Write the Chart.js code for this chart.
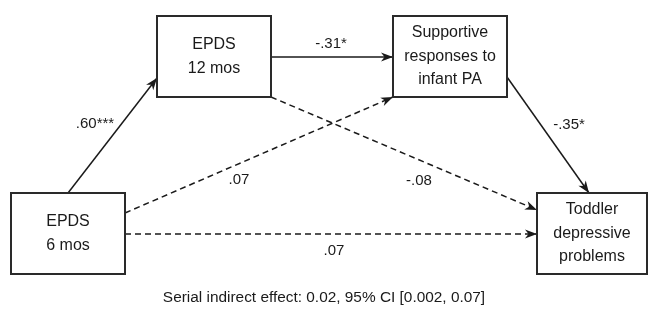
<!DOCTYPE html>
<html><head><meta charset="utf-8">
<script src="https://cdn.jsdelivr.net/npm/chart.js@4/dist/chart.umd.min.js"></script>
<style>html,body{margin:0;padding:0;background:#fff}canvas{display:block}</style>
</head><body>
<canvas id="c" width="648" height="310"></canvas>
<script>
// ---- data ----
const nodeLabels = ["EPDS\n6 mos", "EPDS\n12 mos", "Supportive\nresponses to\ninfant PA", "Toddler\ndepressive\nproblems"];
const pathFrom = [0, 1, 0, 2, 1, 0];
const pathTo = [1, 2, 2, 3, 3, 3];
const coefficients = [".60***", "-.31*", ".07", "-.35*", "-.08", ".07"];
const significant = [true, true, false, true, false, false];
const noteText = "Serial indirect effect: 0.02, 95% CI [0.002, 0.07]";

// ---- layout (diagram space, same units as the canvas) ----
const nodeBoxes = [ // [left, top, right, bottom]
  [11, 193, 125, 274],
  [157, 16, 271, 97],
  [393, 16, 507, 97],
  [537, 193, 647, 274]
];
const pathEnds = [ // [x1, y1, x2, y2]
  [68, 193, 157, 78],
  [271, 57, 393, 57],
  [125, 213, 393, 97],
  [507, 77, 589, 193],
  [271, 97, 537, 210],
  [125, 234, 537, 234]
];
const labelPos = [[95, 124], [331, 44], [239, 180], [569, 125], [419, 181], [334, 251]];
const notePos = [324, 298];

const INK = '#1a1a1a';
const FONT = '"Liberation Sans", Arial, Helvetica, sans-serif';

const datasets = pathEnds.map((p, i) => ({
  label: coefficients[i],
  data: [{x: p[0], y: p[1]}, {x: p[2], y: p[3]}],
  borderColor: INK,
  borderWidth: 1.5,
  borderDash: significant[i] ? [] : [6, 4],
  pointRadius: 0,
  showLine: true,
  fill: false,
  tension: 0
}));

const diagramPlugin = {
  id: 'diagram',
  afterDatasetsDraw(chart) {
    const ctx = chart.ctx, xs = chart.scales.x, ys = chart.scales.y;
    const px = v => xs.getPixelForValue(v), py = v => ys.getPixelForValue(v);
    ctx.save();
    // arrowheads
    chart.data.datasets.forEach((ds, i) => {
      const pts = chart.getDatasetMeta(i).data;
      const a = pts[0], b = pts[1];
      const ang = Math.atan2(b.y - a.y, b.x - a.x);
      const L = 12, W = 4.5, N = 3.5;
      ctx.save();
      ctx.translate(b.x, b.y);
      ctx.rotate(ang);
      ctx.beginPath();
      ctx.moveTo(0, 0);
      ctx.lineTo(-L, -W);
      ctx.lineTo(-L + N, 0);
      ctx.lineTo(-L, W);
      ctx.closePath();
      ctx.fillStyle = INK;
      ctx.fill();
      ctx.restore();
    });
    // boxes
    nodeBoxes.forEach((b, i) => {
      const x1 = px(b[0]), y1 = py(b[1]), x2 = px(b[2]), y2 = py(b[3]);
      ctx.fillStyle = '#fff';
      ctx.fillRect(x1, y1, x2 - x1, y2 - y1);
      ctx.strokeStyle = '#2a2a2a';
      ctx.lineWidth = 2;
      ctx.strokeRect(x1, y1, x2 - x1, y2 - y1);
      const lines = nodeLabels[i].split('\n');
      ctx.fillStyle = INK;
      ctx.font = '16px ' + FONT;
      ctx.textAlign = 'center';
      ctx.textBaseline = 'middle';
      const lh = 23.5;
      const cx = (x1 + x2) / 2, cy = (y1 + y2) / 2;
      lines.forEach((t, k) => {
        ctx.fillText(t, cx, cy + (k - (lines.length - 1) / 2) * lh);
      });
    });
    // coefficient labels
    ctx.font = '15px ' + FONT;
    ctx.fillStyle = INK;
    ctx.textAlign = 'center';
    ctx.textBaseline = 'middle';
    coefficients.forEach((c, i) => {
      ctx.fillText(c, px(labelPos[i][0]), py(labelPos[i][1]));
    });
    // note
    ctx.font = '15.4px ' + FONT;
    ctx.fillText(noteText, px(notePos[0]), py(notePos[1]));
    ctx.restore();
  }
};

new Chart(document.getElementById('c'), {
  type: 'scatter',
  data: { datasets },
  options: {
    responsive: false,
    devicePixelRatio: 1,
    animation: false,
    layout: { padding: 0 },
    plugins: { legend: { display: false }, tooltip: { enabled: false } },
    scales: {
      x: { type: 'linear', min: 0, max: 648, display: false },
      y: { type: 'linear', min: 0, max: 310, reverse: true, display: false }
    }
  },
  plugins: [diagramPlugin]
});
</script>
</body></html>
